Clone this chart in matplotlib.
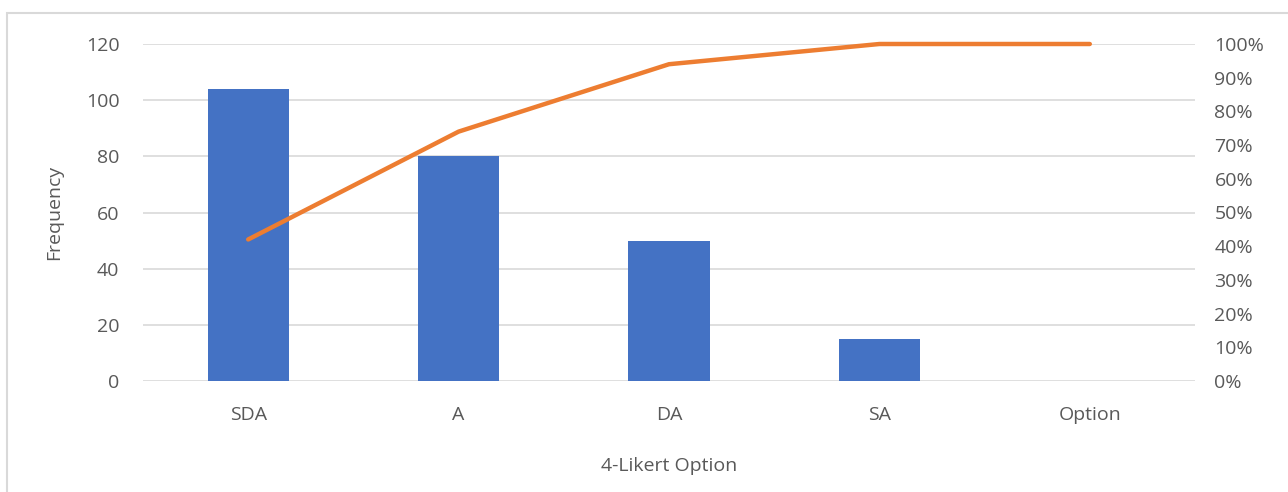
import matplotlib
matplotlib.use("Agg")
import matplotlib.pyplot as plt
from matplotlib.patches import Rectangle
from matplotlib.ticker import FuncFormatter, MultipleLocator

categories = ["SDA", "A", "DA", "SA", "Option"]
frequency = [104, 80, 50, 15, 0]
cumulative_pct = [42, 74, 94, 100, 100]

plt.rcParams['font.family'] = ['Open Sans', 'DejaVu Sans']

W, H = 1288, 492
fig = plt.figure(figsize=(W / 100, H / 100), dpi=100)
fig.patch.set_facecolor("white")

# outer chart border
fig.patches.append(Rectangle((7 / W, -0.1), 1.2, 1 - 13 / H + 0.1, transform=fig.transFigure,
                             fill=False, edgecolor="#d9d9d9", linewidth=1.5))

left, right = 143 / W, 1195 / W
bottom, top = 1 - 381 / H, 1 - 44 / H
ax = fig.add_axes([left, bottom, right - left, top - bottom])
x = list(range(len(categories)))
ax.bar(x, frequency, width=0.385, color="#4472C4", zorder=2)
ax.set_xlim(-0.5, len(categories) - 0.5)
ax.set_ylim(0, 120)
ax.yaxis.set_major_locator(MultipleLocator(20))
ax.grid(axis="y", color="#d9d9d9", linewidth=1.2, zorder=0)
ax.set_axisbelow(True)
for s in ax.spines.values():
    s.set_visible(False)
ax.set_xticks(x)
ax.set_xticklabels(categories)
ax.tick_params(axis="both", length=0, colors="#595959", labelsize=14)
ax.tick_params(axis="x", pad=18)
ax.tick_params(axis="y", pad=17)
ax.set_xlabel("4-Likert Option", color="#595959", fontsize=14, labelpad=24)
ax.set_ylabel("Frequency", color="#595959", fontsize=14, labelpad=16)

ax2 = ax.twinx()
ax2.plot(x, cumulative_pct, color="#ED7D31", linewidth=3.2, solid_capstyle="round",
         zorder=3, clip_on=False)
ax2.set_ylim(0, 100)
ax2.yaxis.set_major_locator(MultipleLocator(10))
ax2.yaxis.set_major_formatter(FuncFormatter(lambda v, p: f"{int(round(v))}%"))
ax2.tick_params(axis="y", length=0, colors="#595959", labelsize=14, pad=14)
for s in ax2.spines.values():
    s.set_visible(False)

fig.savefig("out.png", dpi=100, facecolor="white")
